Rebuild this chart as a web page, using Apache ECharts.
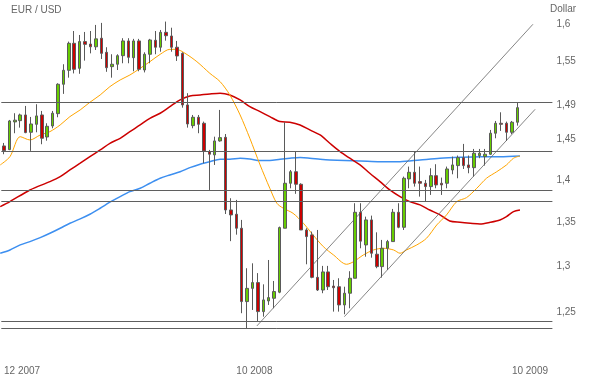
<!DOCTYPE html>
<html>
<head>
<meta charset="utf-8">
<title>EUR / USD</title>
<script src="https://cdn.jsdelivr.net/npm/echarts@6.0.0/dist/echarts.min.js"></script>
<style>
    html, body { margin: 0; padding: 0; background: #fff; }
    #chart { width: 590px; height: 378px; }
</style>
</head>
<body>
<div id="chart"></div>
<script>
// weekly EUR/USD candles, Dec 2007 - Oct 2009
const opens = [
    1.4412, 1.4367, 1.4712, 1.4728, 1.4800, 1.4582, 1.4682, 1.4800, 1.4523, 1.4661,
    1.4817, 1.5195, 1.5378, 1.5738, 1.5404, 1.5761, 1.5728, 1.5691, 1.5807, 1.5617,
    1.5426, 1.5458, 1.5572, 1.5770, 1.5545, 1.5770, 1.5382, 1.5591, 1.5779, 1.5685,
    1.5887, 1.5837, 1.5685, 1.5603, 1.4928, 1.4665, 1.4771, 1.4695, 1.4343, 1.4302,
    1.4474, 1.4519, 1.3642, 1.3592, 1.3430, 1.2611, 1.2755, 1.2818, 1.2503, 1.2618,
    1.2647, 1.2713, 1.3430, 1.3958, 1.4097, 1.3946, 1.3410, 1.3353, 1.2876, 1.2737,
    1.2936, 1.2780, 1.2773, 1.2575, 1.2702, 1.2866, 1.3615, 1.3239, 1.3526, 1.3134,
    1.2995, 1.3201, 1.3277, 1.3615, 1.3441, 1.4010, 1.4090, 1.3978, 1.3958, 1.3918,
    1.4049, 1.3958, 1.3958, 1.4118, 1.4171, 1.4268, 1.4179, 1.4146, 1.4294, 1.4281,
    1.4310, 1.4570, 1.4695, 1.4695, 1.4582, 1.4708
];
const closes = [
    1.4354, 1.4724, 1.4734, 1.4800, 1.4578, 1.4686, 1.4788, 1.4507, 1.4657, 1.4822,
    1.5195, 1.5378, 1.5738, 1.5391, 1.5761, 1.5724, 1.5691, 1.5798, 1.5603, 1.5412,
    1.5458, 1.5572, 1.5770, 1.5550, 1.5770, 1.5391, 1.5591, 1.5783, 1.5685, 1.5887,
    1.5841, 1.5685, 1.5568, 1.4928, 1.4686, 1.4771, 1.4682, 1.4351, 1.4310, 1.4474,
    1.4515, 1.3642, 1.3584, 1.3430, 1.2611, 1.2755, 1.2818, 1.2503, 1.2629, 1.2654,
    1.2720, 1.3437, 1.3958, 1.4097, 1.3946, 1.3410, 1.3334, 1.2876, 1.2737, 1.2936,
    1.2773, 1.2762, 1.2575, 1.2702, 1.2866, 1.3615, 1.3282, 1.3526, 1.3145, 1.2995,
    1.3201, 1.3277, 1.3615, 1.3441, 1.4018, 1.4090, 1.3958, 1.3958, 1.3918, 1.4049,
    1.3938, 1.3938, 1.4130, 1.4179, 1.4268, 1.4171, 1.4146, 1.4322, 1.4322, 1.4310,
    1.4570, 1.4695, 1.4682, 1.4582, 1.4708, 1.4893
];
const lows = [
    1.4310, 1.4360, 1.4570, 1.4640, 1.4570, 1.4351, 1.4582, 1.4433, 1.4477, 1.4632,
    1.4771, 1.5070, 1.5281, 1.5337, 1.5332, 1.5506, 1.5603, 1.5648, 1.5528, 1.5358,
    1.5281, 1.5382, 1.5471, 1.5471, 1.5365, 1.5365, 1.5350, 1.5471, 1.5591, 1.5625,
    1.5774, 1.5625, 1.5502, 1.4893, 1.4640, 1.4632, 1.4570, 1.4200, 1.3878, 1.4179,
    1.4465, 1.3595, 1.3282, 1.3356, 1.2486, 1.2326, 1.2521, 1.2403, 1.2449, 1.2575,
    1.2539, 1.2702, 1.3430, 1.3898, 1.3832, 1.3410, 1.3021, 1.2866, 1.2726, 1.2702,
    1.2737, 1.2503, 1.2503, 1.2475, 1.2539, 1.2866, 1.3201, 1.3106, 1.3095, 1.2977,
    1.2873, 1.2958, 1.3277, 1.3430, 1.3410, 1.3898, 1.3918, 1.3799, 1.3748, 1.3819,
    1.3898, 1.3819, 1.3898, 1.4066, 1.4018, 1.4130, 1.4078, 1.4038, 1.4261, 1.4171,
    1.4302, 1.4507, 1.4599, 1.4474, 1.4558, 1.4665
];
const highs = [
    1.4449, 1.4737, 1.4822, 1.4817, 1.4915, 1.4775, 1.4937, 1.4851, 1.4695, 1.4851,
    1.5208, 1.5458, 1.5761, 1.5905, 1.5851, 1.5892, 1.5905, 1.5988, 1.6016, 1.5685,
    1.5591, 1.5591, 1.5807, 1.5807, 1.5798, 1.5798, 1.5617, 1.5798, 1.5905, 1.5919,
    1.6034, 1.5950, 1.5770, 1.5617, 1.5079, 1.4800, 1.4800, 1.4716, 1.4363, 1.4527,
    1.4864, 1.4560, 1.3780, 1.3760, 1.3526, 1.2977, 1.3032, 1.2923, 1.2799, 1.3069,
    1.2836, 1.3449, 1.4708, 1.4118, 1.4343, 1.3958, 1.3430, 1.3391, 1.3410, 1.3003,
    1.3003, 1.2847, 1.2866, 1.2773, 1.2944, 1.3721, 1.3721, 1.3564, 1.3576, 1.3383,
    1.3296, 1.3296, 1.3654, 1.3721, 1.4038, 1.4159, 1.4343, 1.4159, 1.3998, 1.4139,
    1.4188, 1.4026, 1.4159, 1.4281, 1.4294, 1.4437, 1.4294, 1.4375, 1.4375, 1.4375,
    1.4611, 1.4724, 1.4834, 1.4716, 1.4724, 1.4962
];

// moving averages, [week, price]
const maShort = [
    [-0.7, 1.4179], [1.1, 1.4280], [3.0, 1.4527], [4.8, 1.4486], [6.7, 1.4548], [8.5, 1.4590],
    [10.4, 1.4674], [12.2, 1.4779], [14.1, 1.4864], [15.9, 1.4962], [17.8, 1.5056], [19.6, 1.5164],
    [21.5, 1.5251], [23.3, 1.5316], [25.2, 1.5404], [27.0, 1.5492], [28.9, 1.5590], [30.7, 1.5657],
    [31.9, 1.5657], [33.5, 1.5604], [35.7, 1.5492], [38.1, 1.5338], [40.0, 1.5229], [41.8, 1.5056],
    [43.7, 1.4800], [45.5, 1.4507], [47.4, 1.4179], [49.2, 1.3898], [50.5, 1.3721], [51.7, 1.3662],
    [53.5, 1.3603], [55.4, 1.3488], [57.2, 1.3353], [59.1, 1.3220], [61.0, 1.3125], [63.4, 1.3021],
    [64.7, 1.3050], [66.5, 1.3125], [68.4, 1.3182], [70.2, 1.3201], [72.1, 1.3182], [73.3, 1.3145],
    [74.5, 1.3182], [76.4, 1.3239], [78.2, 1.3315], [80.1, 1.3468], [81.9, 1.3584], [83.8, 1.3740],
    [85.6, 1.3787], [87.5, 1.3898], [89.3, 1.4018], [91.2, 1.4097], [93.0, 1.4179], [94.3, 1.4261],
    [95.5, 1.4289]
];
const maMid = [
    [-0.7, 1.3681], [1.1, 1.3740], [4.8, 1.3878], [8.5, 1.3978], [10.4, 1.4038], [12.2, 1.4118],
    [14.1, 1.4200], [15.9, 1.4280], [17.8, 1.4363], [19.6, 1.4445], [21.5, 1.4507], [23.3, 1.4590],
    [25.2, 1.4674], [27.0, 1.4758], [28.9, 1.4822], [30.7, 1.4906], [32.6, 1.4992], [34.4, 1.5043],
    [36.3, 1.5056], [38.1, 1.5069], [40.0, 1.5078], [41.8, 1.5056], [43.7, 1.4992], [45.5, 1.4906],
    [47.4, 1.4842], [49.2, 1.4779], [51.1, 1.4716], [52.9, 1.4708], [54.8, 1.4674], [56.6, 1.4611],
    [58.5, 1.4548], [60.3, 1.4445], [62.2, 1.4342], [64.0, 1.4261], [65.9, 1.4179], [67.7, 1.4078],
    [69.6, 1.3978], [71.4, 1.3878], [73.3, 1.3799], [75.1, 1.3740], [77.0, 1.3701], [78.8, 1.3642],
    [80.7, 1.3584], [82.5, 1.3514], [84.4, 1.3499], [86.3, 1.3488], [88.1, 1.3480], [90.0, 1.3499],
    [91.8, 1.3526], [93.0, 1.3564], [94.3, 1.3622], [95.5, 1.3642]
];
const maLong = [
    [-0.7, 1.3145], [1.1, 1.3182], [3.0, 1.3239], [4.8, 1.3277], [6.7, 1.3322], [8.5, 1.3372],
    [10.4, 1.3430], [12.2, 1.3488], [14.1, 1.3538], [15.9, 1.3592], [17.8, 1.3662], [19.6, 1.3733],
    [21.5, 1.3799], [23.3, 1.3858], [25.2, 1.3898], [27.0, 1.3958], [28.9, 1.4018], [30.7, 1.4058],
    [32.6, 1.4097], [34.4, 1.4146], [36.3, 1.4188], [38.1, 1.4219], [40.0, 1.4249], [41.8, 1.4249],
    [43.7, 1.4261], [45.5, 1.4252], [47.4, 1.4232], [49.2, 1.4232], [51.1, 1.4249], [52.9, 1.4261],
    [54.8, 1.4269], [56.6, 1.4261], [58.5, 1.4249], [60.3, 1.4240], [63.1, 1.4232], [65.9, 1.4228],
    [69.6, 1.4219], [73.3, 1.4219], [77.0, 1.4240], [80.7, 1.4261], [84.4, 1.4273], [88.1, 1.4280],
    [91.8, 1.4280], [95.5, 1.4289]
];

// support / resistance levels and trend channels
const levels = [1.4962, 1.4346, 1.3874, 1.3744, 1.2400, 1.2326];
const trendUpper = [[46.8, 1.2350], [97.9, 1.5997]];
const trendLower = [[63.0, 1.2449], [98.3, 1.4872]];

// axes
const weekCount = 102; // 96 candles + free space on the right
const xTickIdx = [0, 43, 94];
const xTickLabels = ["12 2007", "10 2008", "10 2009"];
const yTicks = [1.25, 1.3, 1.35, 1.4, 1.45, 1.492, 1.55, 1.6];

const weeks = [];
for (let i = 0; i < weekCount; i++) weeks.push(String(i));
const candles = opens.map((o, i) => [o, closes[i], lows[i], highs[i]]);

const font = "Liberation Sans";
const textColor = "#666";

const chart = echarts.init(document.getElementById("chart"));
chart.setOption({
    animation: false,
    backgroundColor: "#fff",
    title: [
        {
            text: "EUR / USD",
            left: 11,
            top: 5,
            padding: 0,
            textStyle: { fontSize: 10, fontWeight: "normal", color: textColor, fontFamily: font }
        },
        {
            text: "Dollar",
            left: 550,
            top: 4,
            padding: 0,
            textStyle: { fontSize: 10, fontWeight: "normal", color: textColor, fontFamily: font }
        }
    ],
    grid: {
        left: 1.3,
        right: 37.6,
        top: 2.4,
        bottom: 18.5,
        outerBoundsMode: "none"
    },
    xAxis: [
        {
            type: "category",
            data: weeks,
            boundaryGap: true,
            axisLine: { show: false },
            axisTick: { show: false },
            splitLine: { show: false },
            axisLabel: {
                interval: (index) => xTickIdx.indexOf(index) >= 0,
                formatter: (value, index) => {
                    let k = xTickIdx.indexOf(index);
                    return k >= 0 ? xTickLabels[k] : "";
                },
                align: "left",
                margin: 7,
                color: textColor,
                fontSize: 10,
                fontFamily: font
            }
        },
        {
            // same span as the categories, for lines between candles
            type: "value",
            min: -0.5,
            max: weekCount - 0.5,
            show: false
        }
    ],
    yAxis: {
        type: "log",
        logBase: 10,
        min: 1.2,
        max: 1.63,
        position: "right",
        axisLine: { show: false },
        axisTick: { show: false },
        splitLine: { show: false },
        axisLabel: {
            customValues: yTicks,
            formatter: (v) => String(Number(Number(v).toFixed(2))).replace(".", ","),
            margin: 4,
            padding: [3, 0, 0, 0],
            color: textColor,
            fontSize: 10,
            fontFamily: font
        }
    },
    series: [
        {
            name: "MA long",
            type: "line",
            xAxisIndex: 1,
            data: maLong,
            showSymbol: false,
            smooth: 0.3,
            lineStyle: { color: "#3d8ff0", width: 1.5 },
            z: 2
        },
        {
            name: "MA mid",
            type: "line",
            xAxisIndex: 1,
            data: maMid,
            showSymbol: false,
            smooth: 0.3,
            lineStyle: { color: "#cc0000", width: 1.5 },
            z: 2
        },
        {
            name: "MA short",
            type: "line",
            xAxisIndex: 1,
            data: maShort,
            showSymbol: false,
            smooth: 0.3,
            lineStyle: { color: "#ffa500", width: 1 },
            z: 2
        },
        {
            name: "trend upper",
            type: "line",
            xAxisIndex: 1,
            data: trendUpper,
            showSymbol: false,
            lineStyle: { color: "#666", width: 0.8 },
            z: 2
        },
        {
            name: "trend lower",
            type: "line",
            xAxisIndex: 1,
            data: trendLower,
            showSymbol: false,
            lineStyle: { color: "#666", width: 0.8 },
            z: 2
        },
        {
            name: "EUR/USD",
            type: "candlestick",
            data: candles,
            barWidth: 3,
            itemStyle: {
                color: "#66cc00",
                color0: "#cc0000",
                borderColor: "#5a5a5a",
                borderColor0: "#5a5a5a",
                borderWidth: 1
            },
            markLine: {
                silent: true,
                precision: 4,
                symbol: ["none", "none"],
                label: { show: false },
                lineStyle: { color: "#5f5f5f", width: 1, type: "solid" },
                data: levels.map((v) => ({ yAxis: v }))
            },
            z: 3
        }
    ]
});
</script>
</body>
</html>
